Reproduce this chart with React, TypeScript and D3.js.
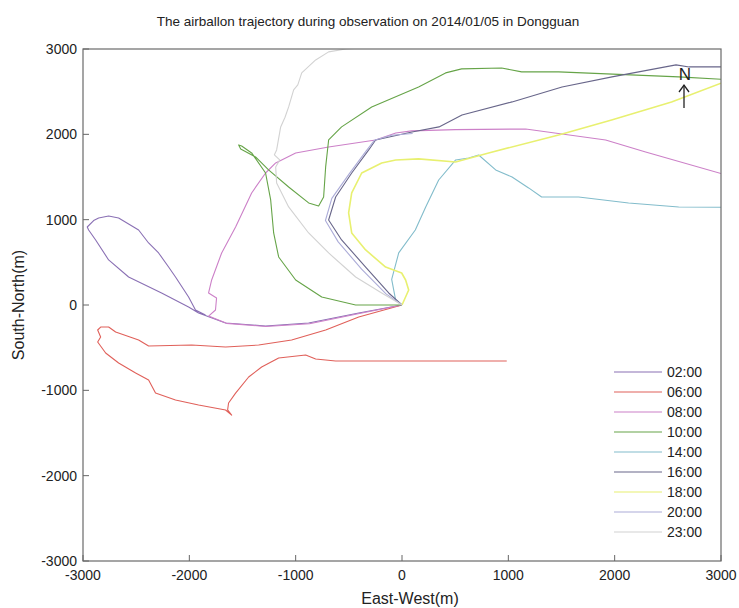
import React from "react";
import * as d3 from "d3";

// trajectory points, metres [east-west, south-north]
const times = ["02:00", "06:00", "08:00", "10:00", "14:00", "16:00", "18:00", "20:00", "23:00"];
const colors = ["#8a70b4", "#e0605a", "#cc80c8", "#66a448", "#82bccb", "#68668a", "#e8f070", "#acacd8", "#d2d2d2"];

const track0200 = [
  [0, 0], [-407, -94], [-878, -211], [-1283, -246], [-1659, -211], [-1913, -94], [-2007, -23],
  [-2261, 141], [-2571, 328], [-2759, 528], [-2881, 762], [-2947, 879], [-2960, 914], [-2900, 990],
  [-2853, 1020], [-2759, 1043], [-2665, 1020], [-2477, 879], [-2383, 727], [-2289, 610], [-2195, 445],
  [-2130, 328], [-2007, 94], [-1942, -59], [-1848, -117],
];
const track0600 = [
  [0, 0], [-407, -141], [-718, -293], [-1038, -410], [-1348, -469], [-1659, -492], [-1978, -469],
  [-2383, -481], [-2477, -410], [-2693, -317], [-2759, -258], [-2834, -258], [-2862, -293],
  [-2834, -375], [-2862, -434], [-2787, -563], [-2665, -680], [-2505, -797], [-2383, -879],
  [-2318, -1032], [-2130, -1114], [-1913, -1172], [-1659, -1231], [-1602, -1290], [-1640, -1230],
  [-1631, -1149], [-1565, -1032], [-1442, -844], [-1320, -727], [-1160, -621], [-906, -586],
  [-812, -633], [-624, -656], [-97, -656], [985, -656],
];
const track0800 = [
  [0, 0], [-400, -100], [-870, -220], [-1280, -252], [-1650, -215], [-1819, -130], [-1754, -59],
  [-1744, 82], [-1819, 141], [-1790, 293], [-1696, 610], [-1565, 914], [-1414, 1313], [-1283, 1547],
  [-1188, 1665], [-1000, 1782], [-690, 1852], [-248, 1934], [-59, 2016], [91, 2040], [500, 2055],
  [1163, 2063], [1915, 1934], [2291, 1794], [3000, 1540],
];
const track1000 = [
  [0, 0], [-436, 0], [-755, 94], [-1000, 293], [-1160, 563], [-1207, 844], [-1235, 1231],
  [-1283, 1547], [-1414, 1782], [-1508, 1864], [-1536, 1876], [-1517, 1829], [-1377, 1735],
  [-1255, 1583], [-1066, 1383], [-878, 1196], [-784, 1161], [-737, 1266], [-718, 1618],
  [-690, 1934], [-568, 2087], [-285, 2321], [156, 2556], [410, 2720], [561, 2767], [937, 2778],
  [1125, 2732], [1473, 2732], [2602, 2673], [3000, 2645],
];
const track1400 = [
  [0, 0], [-60, 60], [-97, 300], [-31, 610], [125, 879], [223, 1149], [345, 1465], [505, 1700],
  [627, 1723], [721, 1758], [881, 1583], [1035, 1500], [1191, 1372], [1313, 1266], [1661, 1266],
  [2131, 1196], [2602, 1149], [3000, 1145],
];
const track1600 = [
  [0, 0], [-125, 141], [-342, 445], [-568, 762], [-690, 996], [-624, 1266], [-473, 1547],
  [-313, 1817], [-248, 1934], [94, 2028], [348, 2087], [564, 2227], [1035, 2380], [1505, 2555],
  [1975, 2673], [2577, 2814], [2700, 2790], [3000, 2790],
];
const track1800 = [
  [0, 0], [63, 176], [34, 293], [-3, 375], [-154, 445], [-342, 645], [-473, 844], [-502, 1079],
  [-473, 1313], [-379, 1547], [-191, 1665], [-59, 1700], [156, 1712], [504, 1676], [815, 1782],
  [1473, 1993], [1971, 2169], [2535, 2380], [3000, 2600],
];
const track2000 = [
  [0, 0], [-150, 130], [-380, 420], [-600, 740], [-720, 990], [-660, 1250], [-500, 1530],
  [-340, 1800], [-260, 1930], [-100, 1990], [100, 2010],
];
const track2300 = [
  [0, 0], [-191, 141], [-436, 328], [-690, 610], [-878, 844], [-1066, 1149], [-1179, 1430],
  [-1188, 1618], [-1150, 1700], [-1200, 1760], [-1179, 1817], [-1141, 2087], [-1100, 2200],
  [-1066, 2321], [-1019, 2520], [-980, 2580], [-943, 2720], [-812, 2872], [-690, 2966],
  [-530, 3000], [-400, 3010],
];

const tracks = [track0200, track0600, track0800, track1000, track1400, track1600, track1800, track2000, track2300];
const ticks = [-3000, -2000, -1000, 0, 1000, 2000, 3000];

const W = 739;
const H = 608;
const left = 83, right = 721, top = 49, bottom = 561;
const font = "Liberation Sans, Arial, sans-serif";

export default function App() {
  const x = d3.scaleLinear().domain([-3000, 3000]).range([left, right]);
  const y = d3.scaleLinear().domain([-3000, 3000]).range([bottom, top]);
  const line = d3.line<number[]>().x(d => x(d[0])).y(d => y(d[1]));

  return (
    <svg width={W} height={H} style={{ position: "absolute", left: 0, top: 0, background: "#fff" }} fontFamily={font}>
      <text x={368} y={26} fontSize={13.5} textAnchor="middle" fill="#222">
        The airballon trajectory during observation on 2014/01/05 in Dongguan
      </text>
      <defs>
        <clipPath id="plot">
          <rect x={left} y={top} width={right - left} height={bottom - top} />
        </clipPath>
      </defs>
      <g clipPath="url(#plot)">
        {tracks.map((t, i) => (
          <path key={times[i]} d={line(t) || ""} fill="none" stroke={colors[i]}
            strokeWidth={times[i] === "18:00" ? 1.6 : 1.1} strokeLinejoin="round" />
        ))}
      </g>
      <rect x={left} y={top} width={right - left} height={bottom - top} fill="none" stroke="#6a6a6a" strokeWidth={1.2} />
      {ticks.map(t => (
        <g key={"x" + t}>
          <line x1={x(t)} x2={x(t)} y1={bottom} y2={bottom - 6} stroke="#666" />
          <text x={x(t)} y={580} fontSize={14} textAnchor="middle" fill="#222">{t}</text>
        </g>
      ))}
      {ticks.map(t => (
        <g key={"y" + t}>
          <line x1={left} x2={left + 6} y1={y(t)} y2={y(t)} stroke="#666" />
          <text x={left - 6} y={y(t) + 5} fontSize={14} textAnchor="end" fill="#222">{t}</text>
        </g>
      ))}
      <text x={410} y={604} fontSize={16} textAnchor="middle" fill="#222">East-West(m)</text>
      <text transform={`translate(24,${(top + bottom) / 2}) rotate(-90)`} fontSize={16} textAnchor="middle" fill="#222">
        South-North(m)
      </text>
      {times.map((t, i) => (
        <g key={"leg" + t}>
          <line x1={614} x2={662} y1={372 + i * 20} y2={372 + i * 20} stroke={colors[i]} strokeWidth={1.2} />
          <text x={667} y={377 + i * 20} fontSize={14} fill="#222">{t}</text>
        </g>
      ))}
      <text x={685} y={80} fontSize={17} textAnchor="middle" fill="#222">N</text>
      <line x1={684} x2={684} y1={108} y2={85} stroke="#222" strokeWidth={1.3} />
      <path d="M679,92 L684,85 L689,92" fill="none" stroke="#222" strokeWidth={1.3} />
    </svg>
  );
}
